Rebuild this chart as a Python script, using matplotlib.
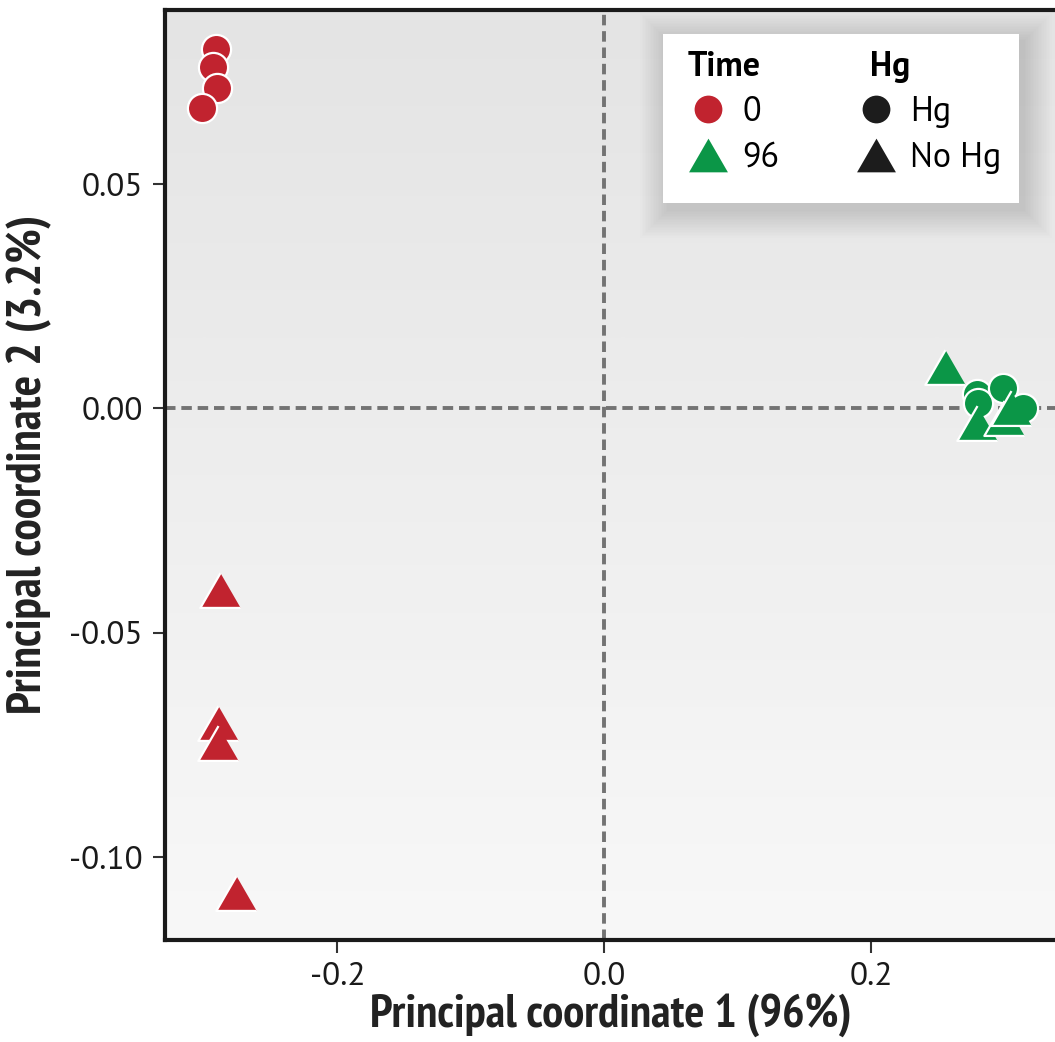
import numpy as np
import matplotlib
matplotlib.use('Agg')
import matplotlib.pyplot as plt
from matplotlib.lines import Line2D
from matplotlib.patches import FancyBboxPatch, Rectangle
from matplotlib.colors import LinearSegmentedColormap
import logging
logging.getLogger('matplotlib.font_manager').setLevel(logging.ERROR)

NARROW = ['PT Sans Narrow', 'Roboto Condensed', 'Liberation Sans', 'DejaVu Sans']
REG = ['PT Sans', 'Liberation Sans', 'DejaVu Sans']
plt.rcParams['font.family'] = REG

# ---- data ----
t0_hg_x = [-0.2912, -0.2935, -0.2905, -0.3017]
t0_hg_y = [0.0800, 0.0761, 0.0715, 0.0669]
t0_nohg_x = [-0.2880, -0.2897, -0.2897, -0.2760]
t0_nohg_y = [-0.0405, -0.0702, -0.0745, -0.1080]
t96_hg_x = [0.2793, 0.2805, 0.2993, 0.3143]
t96_hg_y = [0.0033, 0.0011, 0.0046, 0.0000]
t96_nohg_x = [0.2557, 0.2798, 0.2998, 0.3050]
t96_nohg_y = [0.0093, -0.0033, -0.0022, 0.0000]

xticks = [-0.2, 0.0, 0.2]
xticklabels = ['-0.2', '0.0', '0.2']
yticks = [0.05, 0.0, -0.05, -0.10]
yticklabels = ['0.05', '0.00', '-0.05', '-0.10']

RED = '#c1232f'
GREEN = '#0b9647'
BLACK = '#1c1c1c'
TRI = [(0, 0.866), (-1, -0.866), (1, -0.866)]

W, H = 1055, 1042
fig = plt.figure(figsize=(W / 100, H / 100), dpi=100)
ax = fig.add_axes([165 / W, (H - 940) / H, 1 - 165 / W + 0.002, (940 - 10) / H])

xlim = (-0.3293, 0.3395)
ylim = (-0.1185, 0.0888)

# gradient background
grad = np.linspace(0, 1, 256).reshape(-1, 1)
cmap = LinearSegmentedColormap.from_list('bg', ['#f8f8f8', '#e4e4e4'])
ax.imshow(grad, extent=(0, 1, 0, 1), transform=ax.transAxes, cmap=cmap,
          aspect='auto', origin='lower', zorder=0, interpolation='bilinear')

# dashed zero lines
ax.axhline(0, color='#737373', lw=2.8, dashes=(2.7, 1.5), zorder=1)
ax.axvline(0, color='#737373', lw=2.8, dashes=(2.7, 1.5), zorder=1)

circ_kw = dict(ls='none', marker='o', ms=21, mec='white', mew=1.6, zorder=3)
tri_kw = dict(ls='none', marker=TRI, ms=29, mec='white', mew=1.6, zorder=4)

for x, y in zip(t0_hg_x, t0_hg_y):
    ax.plot([x], [y], color=RED, mfc=RED, **circ_kw)
for x, y in zip(t0_nohg_x, t0_nohg_y):
    ax.plot([x], [y], color=RED, mfc=RED, **tri_kw)
for x, y in zip(t96_hg_x, t96_hg_y):
    ax.plot([x], [y], color=GREEN, mfc=GREEN, **circ_kw)
for x, y in zip(t96_nohg_x, t96_nohg_y):
    ax.plot([x], [y], color=GREEN, mfc=GREEN, **tri_kw)

ax.set_xlim(*xlim)
ax.set_ylim(*ylim)

ax.set_xticks(xticks)
ax.set_xticklabels(xticklabels)
ax.set_yticks(yticks)
ax.set_yticklabels(yticklabels)
ax.tick_params(axis='both', length=9, width=1.5, color='#333333',
               labelsize=24, pad=7, labelcolor='#1a1a1a')

for side in ['left', 'bottom', 'top']:
    ax.spines[side].set_linewidth(3)
    ax.spines[side].set_color('#1a1a1a')
ax.spines['right'].set_visible(False)

ax.set_xlabel('Principal coordinate 1 (96%)', fontsize=34, fontweight='bold',
              color='#222222', labelpad=1, family=NARROW)
ax.set_ylabel('Principal coordinate 2 (3.2%)', fontsize=34.5, fontweight='bold',
              color='#222222', family=NARROW, va='center')
ax.yaxis.set_label_coords(-0.152, 0.511)

# ---- legend ----
LFS = 24.5
blank = Line2D([], [], ls='none')
handles = [blank,
           Line2D([], [], ls='none', marker='o', ms=20, mfc=RED, mec=RED, mew=0),
           Line2D([], [], ls='none', marker=TRI, ms=28, mfc=GREEN, mec=GREEN, mew=0),
           blank,
           Line2D([], [], ls='none', marker='o', ms=20, mfc=BLACK, mec=BLACK, mew=0),
           Line2D([], [], ls='none', marker=TRI, ms=28, mfc=BLACK, mec=BLACK, mew=0)]
labels = ['Time', '0', '96', 'Hg', 'Hg', 'No Hg']
hl, htp = 1.18, 0.41
leg = ax.legend(handles, labels, ncol=2, loc='upper left',
                bbox_to_anchor=(688 / W, 1 - 51 / H), bbox_transform=fig.transFigure,
                borderaxespad=0, borderpad=0, fontsize=LFS, handlelength=hl,
                handletextpad=htp, columnspacing=1.2, labelspacing=0.39,
                frameon=False)
leg.set_zorder(10)
texts = leg.get_texts()
hl_px = (hl + htp) * LFS * 100 / 72
for i, extra in ((0, 0), (3, 14)):
    texts[i].set_fontweight('bold')
    texts[i].set_position((-hl_px + extra, 0))

# legend box and soft shadow
bx0, by0, bx1, by1 = 663, 34, 1019, 203
for k in range(18):
    grow = 28 - k * 1.6
    p = FancyBboxPatch(((bx0 - grow + 5) / W, 1 - (by1 + grow + 7) / H),
                       (bx1 - bx0 + 2 * grow) / W, (by1 - by0 + 2 * grow) / H,
                       boxstyle='square,pad=0', transform=fig.transFigure,
                       facecolor='black', edgecolor='none', alpha=0.009, zorder=8)
    ax.add_artist(p)
ax.add_artist(Rectangle((bx0 / W, 1 - by1 / H), (bx1 - bx0) / W, (by1 - by0) / H,
                        transform=fig.transFigure, facecolor='white',
                        edgecolor='none', zorder=9))

fig.savefig('out.png', dpi=100)
